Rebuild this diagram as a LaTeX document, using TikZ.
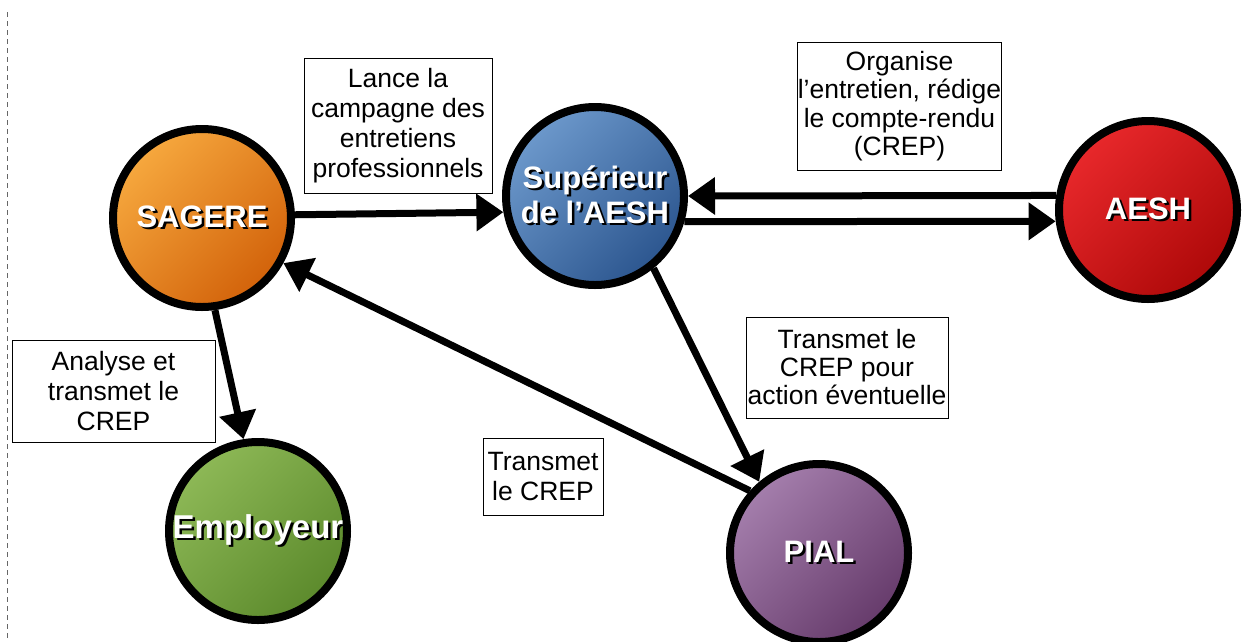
\documentclass[tikz,border=0pt]{standalone}
\usepackage{fontspec}
\setmainfont{Liberation Sans}
\usepackage{tikz}
\usetikzlibrary{arrows.meta}
\definecolor{orangetop}{HTML}{F6A83E}
\definecolor{orangebot}{HTML}{D2620A}
\definecolor{bluetop}{HTML}{6C98CB}
\definecolor{bluebot}{HTML}{2C568F}
\definecolor{redtop}{HTML}{E8282B}
\definecolor{redbot}{HTML}{AE0909}
\definecolor{purpletop}{HTML}{A47EAC}
\definecolor{purplebot}{HTML}{663B6B}
\definecolor{greentop}{HTML}{8DB856}
\definecolor{greenbot}{HTML}{5C8A2C}
\newcommand{\whitetxt}[1]{\leavevmode\rlap{\hspace{2.5pt}\raisebox{-2.5pt}{\textcolor{black}{#1}}}\textcolor{white}{#1}}

\begin{document}
\begin{tikzpicture}
            [every node/.style={inner sep=0pt},
             actor/.style 2 args={circle, minimum size=178pt, line width=8pt, draw=black, top color=#1, bottom color=#2, shading angle=45, align=center, font=\bfseries\fontsize{31}{35}\selectfont},
             note/.style={rectangle, draw=black, line width=0.8pt, fill=white, align=center, font=\fontsize{26.5}{30}\selectfont},
             flow/.style={line width=7pt, -{Triangle[length=27pt, width=36pt]}, color=black}]
                \useasboundingbox (0pt, 0pt) rectangle (1244pt, -641pt);
                \draw [black!60, line width=1pt, dash pattern=on 5pt off 4pt] (7pt, -12pt) -- (7pt, -641pt);
                \node (1) [actor={orangetop}{orangebot}] at (202pt, -218pt) {\whitetxt{SAGERE}};
                \node (2) [actor={bluetop}{bluebot}] at (595pt, -196pt) {\whitetxt{Supérieur}\\\whitetxt{de l’AESH}};
                \node (3) [actor={redtop}{redbot}] at (1148pt, -210pt) {\whitetxt{AESH}};
                \node (4) [actor={purpletop}{purplebot}] at (819pt, -553pt) {\whitetxt{PIAL}};
                \node (5) [actor={greentop}{greenbot}, font=\bfseries\fontsize{33}{37}\selectfont] at (258pt, -531pt) {\whitetxt{Employeur}};
                \draw [flow] (1.2) to (2.190);
                \draw [flow] (3.171) to (2.0);
                \draw [flow] (2.-16) to (3.187);
                \draw [flow] (1.-82) to (5.99);
                \draw [flow] (2.-51) to (4.130);
                \draw [flow] (4.138) to (1.-29);
                \node (6) [note, minimum width=188pt, minimum height=135pt] at (398pt, -125.5pt) {Lance la\\campagne des\\entretiens\\professionnels};
                \node (7) [note, minimum width=204pt, minimum height=128pt, font=\fontsize{26.5}{28.5}\selectfont] at (899.5pt, -106pt) {Organise\\l’entretien, rédige\\le compte-rendu\\(CREP)};
                \node (8) [note, minimum width=202pt, minimum height=101pt, font=\fontsize{26.5}{28}\selectfont] at (847pt, -367.5pt) {Transmet le\\CREP pour\\action éventuelle};
                \node (9) [note, minimum width=120pt, minimum height=77pt] at (543pt, -476.5pt) {Transmet\\le CREP};
                \node (10) [note, minimum width=203pt, minimum height=102pt] at (113.5pt, -391pt) {Analyse et\\transmet le\\CREP};
            \end{tikzpicture}
\end{document}
